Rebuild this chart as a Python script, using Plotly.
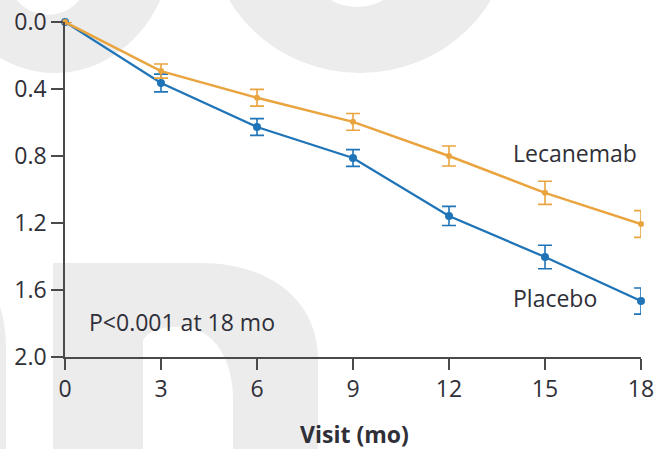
import plotly.graph_objects as go

visits = [0, 3, 6, 9, 12, 15, 18]
placebo = [0.0, 0.364, 0.627, 0.812, 1.158, 1.403, 1.666]
placebo_err = [None, 0.053, 0.050, 0.050, 0.057, 0.070, 0.078]
lecanemab = [0.0, 0.293, 0.452, 0.596, 0.800, 1.020, 1.206]
lecanemab_err = [None, 0.042, 0.050, 0.050, 0.060, 0.069, 0.080]
y_ticks = [0.0, 0.4, 0.8, 1.2, 1.6, 2.0]
x_ticks = [0, 3, 6, 9, 12, 15, 18]

BLUE = "#1F74B8"
ORANGE = "#E9A43F"
TXT = "#2f2f38"
WM = "#ececec"
FONT = "Open Sans"
FS = 23

W, H = 658, 449
L, R, T, B = 65, 17, 22, 92
PW, PH = W - L - R, H - T - B


def px(x):
    return (x - L) / PW


def py(y):
    return (H - B - y) / PH


def path(cmds):
    out = []
    for c in cmds:
        if isinstance(c, str):
            out.append(c)
        else:
            out.append("%.5f,%.5f" % (px(c[0]), py(c[1])))
    return " ".join(out)


fig = go.Figure()
fig.add_trace(go.Scatter(
    x=visits, y=placebo, mode="lines+markers", name="Placebo",
    line=dict(color=BLUE, width=2.3),
    marker=dict(color=BLUE, size=8, symbol="circle"),
    error_y=dict(type="data", array=placebo_err, visible=True,
                 color=BLUE, thickness=1.6, width=7),
    cliponaxis=False, showlegend=False))
fig.add_trace(go.Scatter(
    x=visits, y=lecanemab, mode="lines+markers", name="Lecanemab",
    line=dict(color=ORANGE, width=2.5),
    marker=dict(color=ORANGE, size=6, symbol="circle"),
    error_y=dict(type="data", array=lecanemab_err, visible=True,
                 color=ORANGE, thickness=1.6, width=7),
    cliponaxis=False, showlegend=False))

shapes = []
# background watermark shapes
shapes.append(dict(type="circle", xref="paper", yref="paper", layer="below",
                   x0=px(-63), x1=px(173), y0=py(73), y1=py(-193),
                   fillcolor=WM, line=dict(width=0)))
shapes.append(dict(type="circle", xref="paper", yref="paper", layer="below",
                   x0=px(6), x1=px(90), y0=py(15), y1=py(-75),
                   fillcolor="white", line=dict(width=0)))
shapes.append(dict(type="circle", xref="paper", yref="paper", layer="below",
                   x0=px(210), x1=px(510), y0=py(73), y1=py(-213),
                   fillcolor=WM, line=dict(width=0)))
shapes.append(dict(type="circle", xref="paper", yref="paper", layer="below",
                   x0=px(312), x1=px(402), y0=py(7), y1=py(-67),
                   fillcolor="white", line=dict(width=0)))
shapes.append(dict(type="path", xref="paper", yref="paper", layer="below",
                   path=path(["M", (53, 470), "L", (53, 263), "L", (200, 263),
                              "C", (270, 263), (318, 300), (318, 360),
                              "L", (318, 470), "Z"]),
                   fillcolor=WM, line=dict(width=0)))
shapes.append(dict(type="path", xref="paper", yref="paper", layer="below",
                   path=path(["M", (143, 470), "L", (143, 340),
                              "C", (150, 328), (170, 326), (185, 327),
                              "C", (215, 330), (233, 360), (233, 400),
                              "L", (233, 470), "Z"]),
                   fillcolor="white", line=dict(width=0)))
shapes.append(dict(type="path", xref="paper", yref="paper", layer="below",
                   path=path(["M", (-5, 295), "C", (3, 310), (6, 330), (6, 350),
                              "L", (6, 470), "L", (-5, 470), "Z"]),
                   fillcolor=WM, line=dict(width=0)))

annotations = [
    dict(text="Lecanemab", x=px(511), y=py(153), xref="paper", yref="paper",
         xanchor="left", yanchor="middle", showarrow=False,
         font=dict(family=FONT, size=FS, color=TXT)),
    dict(text="Placebo", x=px(511), y=py(298), xref="paper", yref="paper",
         xanchor="left", yanchor="middle", showarrow=False,
         font=dict(family=FONT, size=FS, color=TXT)),
    dict(text="P<0.001 at 18 mo", x=px(87), y=py(322), xref="paper", yref="paper",
         xanchor="left", yanchor="middle", showarrow=False,
         font=dict(family=FONT, size=FS, color=TXT)),
    dict(text="<b>Visit (mo)</b>", x=px(354), y=py(434), xref="paper", yref="paper",
         xanchor="center", yanchor="middle", showarrow=False,
         font=dict(family=FONT, size=FS, color=TXT)),
]

fig.update_layout(
    width=W, height=H,
    margin=dict(l=L, r=R, t=T, b=B, pad=0, autoexpand=False),
    paper_bgcolor="white", plot_bgcolor="rgba(0,0,0,0)",
    shapes=shapes, annotations=annotations,
    font=dict(family=FONT, size=FS, color=TXT),
)
fig.update_xaxes(
    range=[0, 18], tickvals=x_ticks, ticktext=[str(v) for v in x_ticks],
    showgrid=False, zeroline=False, showline=True, linecolor="#4a4a4a", linewidth=1.6,
    ticks="outside", ticklen=11, tickwidth=1.6, tickcolor="#4a4a4a",
    tickfont=dict(family=FONT, size=FS, color=TXT), fixedrange=True, automargin=False,
)
fig.update_yaxes(
    range=[2.0, 0.0], tickvals=y_ticks, ticktext=["%.1f" % v for v in y_ticks],
    showgrid=False, zeroline=False, showline=True, linecolor="#4a4a4a", linewidth=1.6,
    ticks="outside", ticklen=12, tickwidth=1.6, tickcolor="#4a4a4a",
    tickfont=dict(family=FONT, size=FS, color=TXT), fixedrange=True, automargin=False,
)

fig.write_html(
    "out.html",
    config={"displayModeBar": False},
    post_script="document.body.style.margin='0';document.body.style.padding='0';"
                "document.body.style.overflow='hidden';",
)
